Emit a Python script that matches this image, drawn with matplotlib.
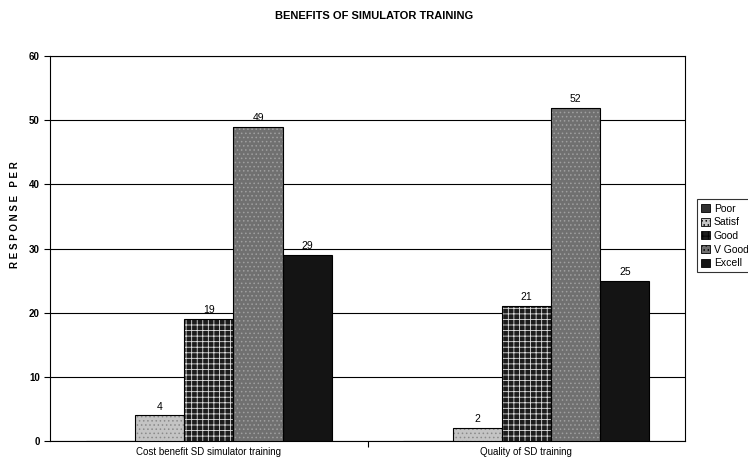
import matplotlib
matplotlib.use("Agg")
import matplotlib.pyplot as plt
import numpy as np

# DATA
categories = ["Cost benefit SD simulator training", "Quality of SD training"]
series_names = ["Poor", "Satisf", "Good", "V Good", "Excell"]
poor = [0, 0]
satisf = [4, 2]
good = [19, 21]
v_good = [49, 52]
excell = [29, 25]
yticks = [0, 10, 20, 30, 40, 50, 60]

plt.rcParams['font.family'] = ['Liberation Sans', 'DejaVu Sans']
plt.rcParams['hatch.linewidth'] = 0.6

fig = plt.figure(figsize=(7.48, 4.57), dpi=100)
ax = fig.add_axes([0.067, 0.035, 0.849, 0.842])

# STYLES (face, hatch, hatch colour)
styles = [
    ("#303030", None, "black"),
    ("#c4c4c4", "....", "#8a8a8a"),
    ("#1c1c1c", "+++", "#e0e0e0"),
    ("#707070", "....", "#a0a0a0"),
    ("#141414", None, "black"),
]

x = np.arange(len(categories))
w = 0.155
allSeries = [poor, satisf, good, v_good, excell]

for i, vals in enumerate(allSeries):
    face, hatch, hcol = styles[i]
    pos = x + (i - 2) * w
    ax.bar(pos, vals, w, color=face, hatch=hatch, edgecolor=hcol, linewidth=0, zorder=3)
    ax.bar(pos, vals, w, fill=False, edgecolor="black", linewidth=0.8, zorder=4)
    for p, v in zip(pos, vals):
        if v > 0:
            ax.text(p, v + 0.6, str(v), ha="center", va="bottom", fontsize=7.5, zorder=5)

ax.set_xlim(-0.5, 1.5)
ax.set_ylim(0, 60)
ax.set_yticks(yticks)
ax.set_yticklabels([str(t) for t in yticks], fontsize=7, fontweight="bold")
ax.yaxis.grid(True, color="black", linewidth=0.8, zorder=0)
ax.set_axisbelow(True)

ax.set_xticks(x)
ax.set_xticklabels(categories, fontsize=7)
ax.tick_params(axis="x", length=0, pad=4)
ax.set_xticks([0.5], minor=True)
ax.tick_params(axis="x", which="minor", length=4, width=0.8)
ax.tick_params(axis="y", length=4, width=0.8, direction="out")

for s in ax.spines.values():
    s.set_linewidth(0.8)

fig.text(0.5, 0.965, "BENEFITS OF SIMULATOR TRAINING", ha="center", va="center",
         fontsize=8, fontweight="bold")
fig.text(0.02, 0.53, "R E S P O N S E   P E R", rotation=90, ha="center", va="center",
         fontsize=7, fontweight="bold")

# legend
handles = []
for i, name in enumerate(series_names):
    face, hatch, hcol = styles[i]
    h = plt.Rectangle((0, 0), 1, 1, facecolor=face, hatch=hatch, edgecolor="black", linewidth=0.6)
    handles.append(h)
leg = fig.legend(handles, series_names, loc="upper left", bbox_to_anchor=(0.925, 0.575),
                 fontsize=7.5, frameon=True, fancybox=False, edgecolor="black",
                 handlelength=0.8, handleheight=0.8, handletextpad=0.4,
                 borderpad=0.4, labelspacing=0.35)
leg.get_frame().set_linewidth(0.8)

fig.savefig("out.png", dpi=100)
